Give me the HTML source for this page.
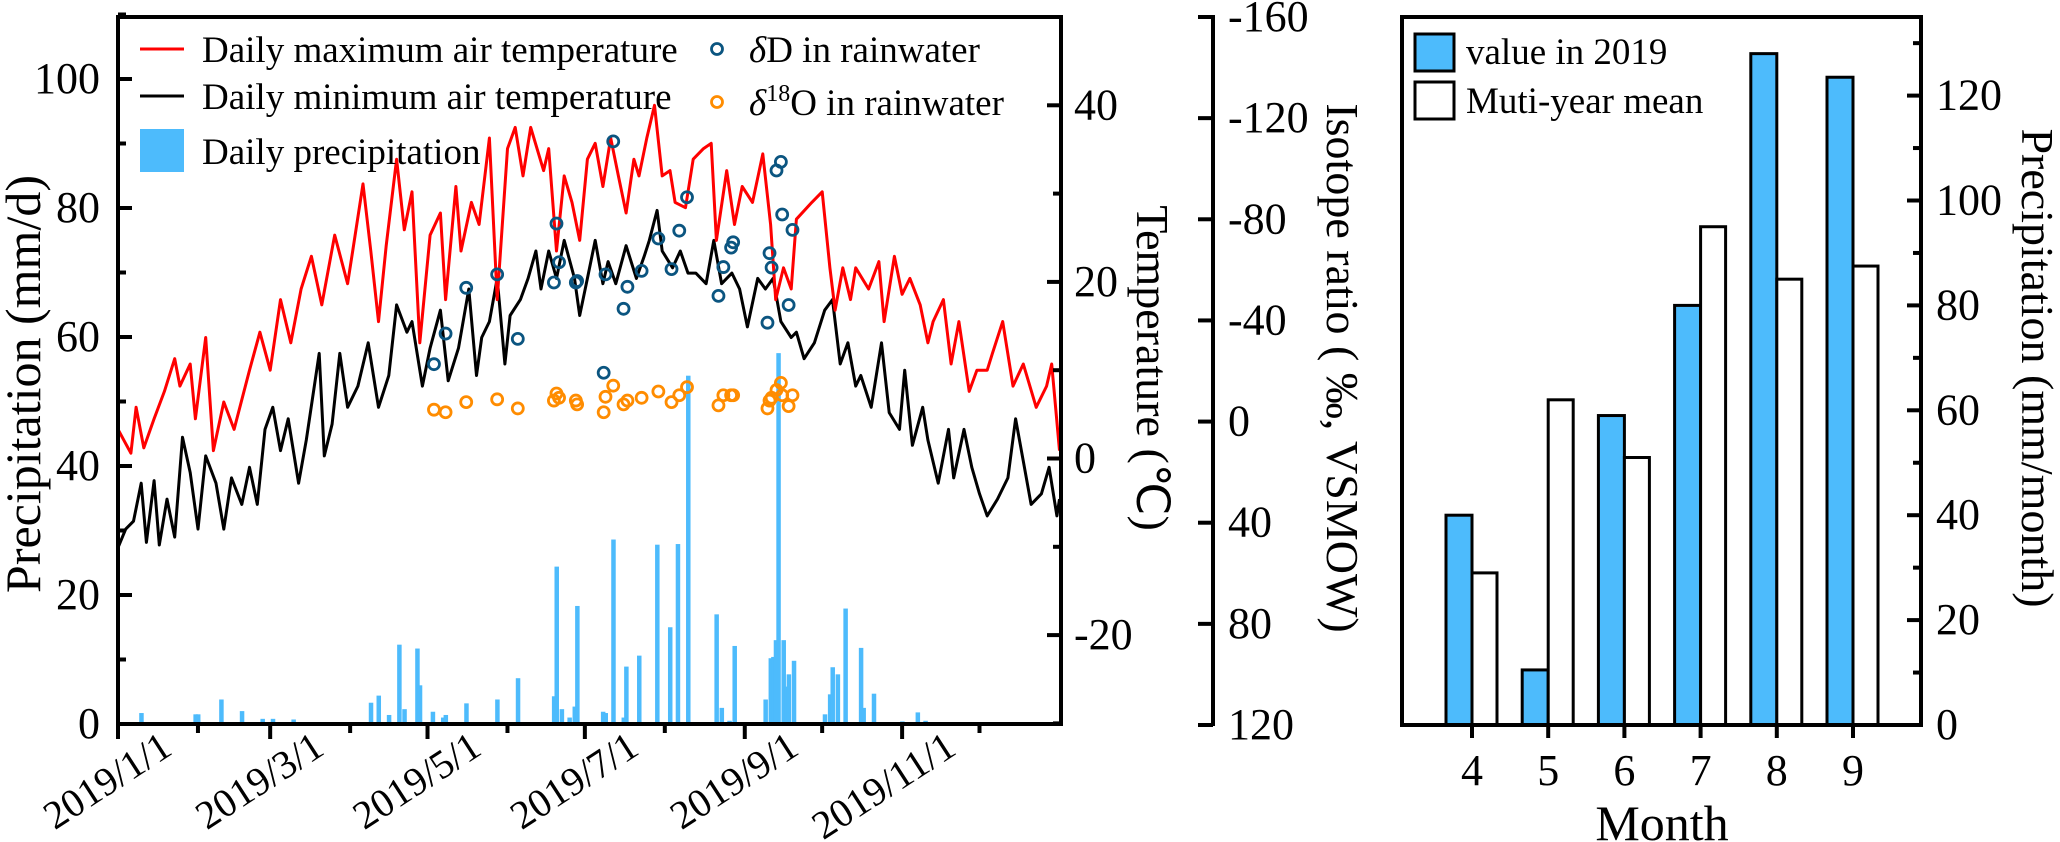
<!DOCTYPE html>
<html><head><meta charset="utf-8"><style>
html,body{margin:0;padding:0;background:#fff;}
svg{display:block;font-family:"Liberation Serif",serif;}
</style></head><body>
<svg id="fig" width="2060" height="842" viewBox="0 0 2060 842" font-family="Liberation Serif, serif">
<g id="left"></g>
<g id="right"></g>
</svg>
<script>
// ---- left chart data ----
const maxDays=[0,5,7,10,14,18,22,24,28,30,34,37,41,45,51,55,59,63,67,71,75,79,84,89,91,95,98,101,104,108,111,114,117,121,125,127,131,133,137,140,144,147,151,154,157,160,165,167,170,173,176,179,182,185,188,191,194,197,200,202,205,208,211,214,216,220,223,227,230,232,236,239,242,246,250,253,255,258,261,263,269,273,276,278,281,284,286,291,295,297,301,304,307,311,314,316,320,323,326,330,333,337,339,343,347,351,356,360,362,365];
const maxTemp=[3.3,0.6,5.8,1.2,4.5,7.6,11.3,8.2,10.7,4.5,13.7,0.9,6.4,3.3,10.0,14.3,10.0,18.0,13.1,19.2,22.9,17.4,25.3,19.8,23.5,31.1,23.5,15.5,24.1,33.9,25.9,30.2,13.1,25.3,27.8,18.0,30.8,23.5,29.0,26.5,36.3,18.0,35.1,37.5,32.0,37.5,32.6,35.1,23.5,32.0,29.0,24.7,33.9,35.7,30.8,36.3,32.0,27.8,33.9,32.0,36.3,40.0,32.0,32.6,29.0,28.4,33.9,35.1,35.7,24.7,32.6,26.5,30.8,29.0,34.5,26.5,18.0,21.6,19.2,27.1,29.0,30.2,21.6,16.8,21.6,18.0,21.6,19.2,22.3,15.5,22.9,18.6,20.4,17.4,13.1,15.5,18.0,10.7,15.5,7.6,10.0,10.0,11.9,15.5,8.2,10.7,5.8,8.2,10.7,0.9];
const minDays=[0,3,6,9,11,14,16,19,22,25,28,31,34,38,41,44,48,51,54,57,60,63,66,70,73,78,80,83,86,89,93,97,101,105,108,112,114,118,121,125,128,132,136,139,141,144,147,150,152,156,159,162,164,167,170,173,177,179,182,185,188,190,193,197,201,204,206,209,211,215,218,221,224,228,231,234,238,241,244,248,251,254,257,261,263,266,270,274,277,280,283,286,288,292,296,299,303,305,308,312,314,318,322,324,328,331,334,337,341,345,348,351,354,358,361,364,365];
const minTemp=[-10.1,-8.0,-7.1,-2.8,-9.5,-2.5,-9.8,-4.6,-8.9,2.4,-1.6,-8.0,0.3,-2.8,-8.0,-2.2,-5.2,-1.0,-5.2,3.3,5.8,0.9,4.5,-2.8,2.1,11.9,0.3,3.9,11.9,5.8,8.2,13.1,5.8,9.4,17.4,14.3,15.5,8.2,12.5,16.8,8.8,12.5,19.2,9.4,13.7,15.5,20.4,10.7,16.2,18.0,20.4,23.5,19.2,23.5,20.4,24.7,20.4,16.2,20.4,24.7,19.8,22.3,19.8,24.1,20.4,22.9,24.7,28.1,23.5,21.6,23.5,21.0,21.0,19.8,24.7,19.8,21.0,19.2,14.9,20.4,19.2,20.4,15.5,13.7,14.3,11.3,13.1,16.8,18.0,10.7,13.1,8.2,9.4,5.8,13.1,5.2,3.3,10.0,1.5,5.8,2.1,-2.8,3.3,-2.2,3.3,-1.0,-4.0,-6.5,-4.6,-2.2,4.5,-0.3,-5.2,-4.0,-1.0,-6.5,-4.6];
const precipDays=[9,30,31,40,48,56,60,68,98,101,105,109,111,116,117,122,126,127,135,139,147,155,169,170,172,175,177,178,188,189,192,196,197,202,209,214,217,221,232,234,237,239,251,253,254,255,256,258,259,260,262,274,276,277,279,282,288,289,293,304,310,313];
const precipVals=[1.7,1.5,1.5,3.8,2.0,0.8,0.8,0.7,3.3,4.4,1.4,12.3,2.3,11.7,6.0,1.9,1.0,1.4,3.2,0.3,3.8,7.1,4.3,24.4,2.3,1.0,2.7,18.3,1.9,1.7,28.6,1.0,8.9,10.6,27.8,15.0,27.9,54.0,17.0,2.5,0.5,12.1,3.8,10.2,10.4,13.0,57.5,13.0,5.8,7.7,9.8,1.5,4.6,8.8,7.7,17.9,11.8,2.5,4.7,0.4,1.8,0.5];
const dDDays=[122.5,127,135,147,155,170,171,169,177.5,178,188.3,189,192,196,197.5,203,209.5,214.6,217.6,220.6,232.8,234.7,237.7,238.5,251.8,252.6,253.4,255.3,257,257.5,260,261.5];
const dDVals=[-22.7,-34.8,-52.9,-58.2,-32.7,-78.3,-63.0,-55.0,-55.0,-55.6,-19.3,-58.2,-110.8,-44.6,-53.3,-59.6,-72.4,-60.3,-75.5,-88.7,-49.7,-61.1,-68.8,-70.9,-39.1,-66.6,-60.9,-99.3,-102.7,-81.9,-46.1,-75.8];
const d18Days=[122.5,127,135,147,155,169,170,171,177.5,178,188.3,189,192,196,197.5,203,209.5,214.6,217.6,220.6,232.8,234.7,237.7,238.5,251.8,252.6,253.4,255.3,257,257.5,260,261.5];
const d18Vals=[-4.7,-3.7,-7.7,-8.8,-5.2,-8.3,-11.1,-9.4,-8.3,-6.8,-3.7,-9.8,-14.2,-6.8,-8.3,-9.4,-11.9,-7.7,-10.4,-13.6,-6.4,-10.4,-10.4,-10.4,-5.2,-8.3,-9.4,-12.5,-15.3,-10.4,-6.1,-10.4];
const precipTicks=[0,20,40,60,80,100];
const tempTicks=[40,20,0,-20];
const isoTicks=[-160,-120,-80,-40,0,40,80,120];
const dateTickDays=[0,59,120,181,243,304];
const dateTickLabels=["2019/1/1","2019/3/1","2019/5/1","2019/7/1","2019/9/1","2019/11/1"];
const minorDateDays=[31,90,151,212,273,334];
// ---- right chart data ----
const months=[4,5,6,7,8,9];
const value2019=[40,10.5,59,80,128,123.5];
const multiYearMean=[29,62,51,95,85,87.5];
const rightTicks=[0,20,40,60,80,100,120];

const NS="http://www.w3.org/2000/svg";
function mk(parent,tag,attrs,text){const e=document.createElementNS(NS,tag);for(const k in attrs)e.setAttribute(k,attrs[k]);if(text!==undefined)e.textContent=text;parent.appendChild(e);return e;}
const L=document.getElementById('left'),R=document.getElementById('right');

const FX0=118,FX1=1061,FY0=17,FY1=724;
const x=d=>FX0+d*(FX1-FX0)/365.6;
const yP=p=>724-p*6.45;
const yT=t=>458.5-t*8.83;
const yI=v=>17+(v+160)*708/280;

precipDays.forEach((d,i)=>{
 const r=mk(L,'rect',{x:x(d)-2,y:yP(precipVals[i]),width:4.5,height:724-yP(precipVals[i]),fill:'#4dbbfc'});
 
 
});
function line(days,vals,color,name){
 const p=mk(L,'polyline',{points:days.map((d,i)=>x(d).toFixed(1)+','+yT(vals[i]).toFixed(1)).join(' '),fill:'none',stroke:color,'stroke-width':3,'stroke-linejoin':'round'});
 
 
}
line(minDays,minTemp,'#000','min-temp-line');
line(maxDays,maxTemp,'#ff0000','max-temp-line');
d18Days.forEach((d,i)=>{
 const c=mk(L,'circle',{cx:x(d),cy:yI(d18Vals[i]),r:5.5,fill:'none',stroke:'#ff8c00','stroke-width':2.8});
 
 
});
dDDays.forEach((d,i)=>{
 const c=mk(L,'circle',{cx:x(d),cy:yI(dDVals[i]),r:5.5,fill:'none',stroke:'#0b5580','stroke-width':2.8});
 
 
});
const fr=mk(L,'rect',{x:FX0,y:FY0,width:FX1-FX0,height:FY1-FY0,fill:'none',stroke:'#000','stroke-width':4});


for(let v=0;v<=110;v+=10){const major=v%20===0;const t=mk(L,'line',{x1:FX0,x2:FX0+(major?14:8),y1:yP(v),y2:yP(v),stroke:'#000','stroke-width':4});
 
 }
precipTicks.forEach(v=>{const t=mk(L,'text',{x:100,y:yP(v)+14,'text-anchor':'end','font-size':44},String(v));
 
 });
for(let v=-30;v<=50;v+=10){const major=v%20===0;const t=mk(L,'line',{x1:FX1,x2:FX1-(major?14:8),y1:yT(v),y2:yT(v),stroke:'#000','stroke-width':4});
 
 }
tempTicks.forEach(v=>{const t=mk(L,'text',{x:1074,y:yT(v)+14,'font-size':44},String(v));
 
 });
dateTickDays.forEach((d,i)=>{
 const t=mk(L,'line',{x1:x(d),x2:x(d),y1:FY1,y2:FY1+15,stroke:'#000','stroke-width':4});
 
 
 const tx=(x(d)+56).toFixed(1),ty=753;
 const g=mk(L,'g',{transform:'translate('+tx+','+ty+') rotate(-33)'});
 
 
 const lb=mk(g,'text',{x:0,y:0,'text-anchor':'end','font-size':40},dateTickLabels[i]);
 
 
});
minorDateDays.forEach(d=>{const t=mk(L,'line',{x1:x(d),x2:x(d),y1:FY1,y2:FY1+9,stroke:'#000','stroke-width':4});
 
 });
const IX=1213;
const ia=mk(L,'line',{x1:IX,x2:IX,y1:FY0-2,y2:726,stroke:'#000','stroke-width':4});


isoTicks.forEach(v=>{
 const t=mk(L,'line',{x1:IX,x2:IX-15,y1:yI(v),y2:yI(v),stroke:'#000','stroke-width':4});
 
 
 const lb=mk(L,'text',{x:1228,y:yI(v)+14,'font-size':44},String(v));
 
 
});

const RX0=1402,RX1=1921,RY0=17,RY1=725;
const xM=m=>1472+(m-4)*76.2;
const yR=v=>725-v*5.245;
months.forEach((m,i)=>{
 const b=mk(R,'rect',{x:xM(m)-26,y:yR(value2019[i]),width:26,height:725-yR(value2019[i]),fill:'#4dbbfc',stroke:'#000','stroke-width':3});
 
 
 const w=mk(R,'rect',{x:xM(m),y:yR(multiYearMean[i]),width:25,height:725-yR(multiYearMean[i]),fill:'#fff',stroke:'#000','stroke-width':3});
 
 
 const t=mk(R,'line',{x1:xM(m),x2:xM(m),y1:RY1,y2:RY1+13,stroke:'#000','stroke-width':4});
 
 
 const lb=mk(R,'text',{x:xM(m),y:785,'text-anchor':'middle','font-size':44},String(m));
 
 
});
const rf=mk(R,'rect',{x:RX0,y:RY0,width:RX1-RX0,height:RY1-RY0,fill:'none',stroke:'#000','stroke-width':4});


for(let v=10;v<=130;v+=10){const major=v%20===0;const t=mk(R,'line',{x1:RX1,x2:RX1-(major?14:8),y1:yR(v),y2:yR(v),stroke:'#000','stroke-width':4});
 
 }
rightTicks.forEach(v=>{const t=mk(R,'text',{x:1936,y:yR(v)+14,'font-size':44},String(v));
 
 });
</script>
<svg width="2060" height="842" style="position:absolute;left:0;top:0" font-family="Liberation Serif, serif">
 <text font-size="50" text-anchor="middle" transform="translate(40 384) rotate(-90)">Precipitation (mm/d)</text>
 <text font-size="46" text-anchor="middle" transform="translate(1137 368) rotate(90)">Temperature (℃)</text>
 <text font-size="46" text-anchor="middle" transform="translate(1327 368) rotate(90)">Isotope ratio ( ‰, VSMOW)</text>
 <text font-size="46" text-anchor="middle" transform="translate(2022 368) rotate(90)">Precipitation (mm/month)</text>
 <text font-size="50" text-anchor="middle" x="1662" y="840">Month</text>
 <g font-size="37">
  <line x1="140" x2="184" y1="49" y2="49" stroke="#ff0000" stroke-width="3"/>
  <text x="202" y="62">Daily maximum air temperature</text>
  <line x1="140" x2="184" y1="96" y2="96" stroke="#000" stroke-width="3"/>
  <text x="202" y="109">Daily minimum air temperature</text>
  <rect x="140" y="129" width="44" height="43" fill="#4dbbfc"/>
  <text x="202" y="164">Daily precipitation</text>
  <circle cx="717" cy="49" r="5.5" fill="none" stroke="#0b5580" stroke-width="2.8"/>
  <text x="749" y="62"><tspan font-style="italic">δ</tspan>D in rainwater</text>
  <circle cx="717" cy="102" r="5.5" fill="none" stroke="#ff8c00" stroke-width="2.8"/>
  <text x="749" y="115"><tspan font-style="italic">δ</tspan><tspan font-size="24" dy="-14">18</tspan><tspan dy="14">O in rainwater</tspan></text>
 </g>
 <g font-size="37">
  <rect x="1415" y="34" width="39" height="37" fill="#4dbbfc" stroke="#000" stroke-width="3"/>
  <text x="1466" y="64">value in 2019</text>
  <rect x="1415" y="82" width="39" height="37" fill="#fff" stroke="#000" stroke-width="3"/>
  <text x="1466" y="113">Muti-year mean</text>
 </g>
</svg>
</body></html>
